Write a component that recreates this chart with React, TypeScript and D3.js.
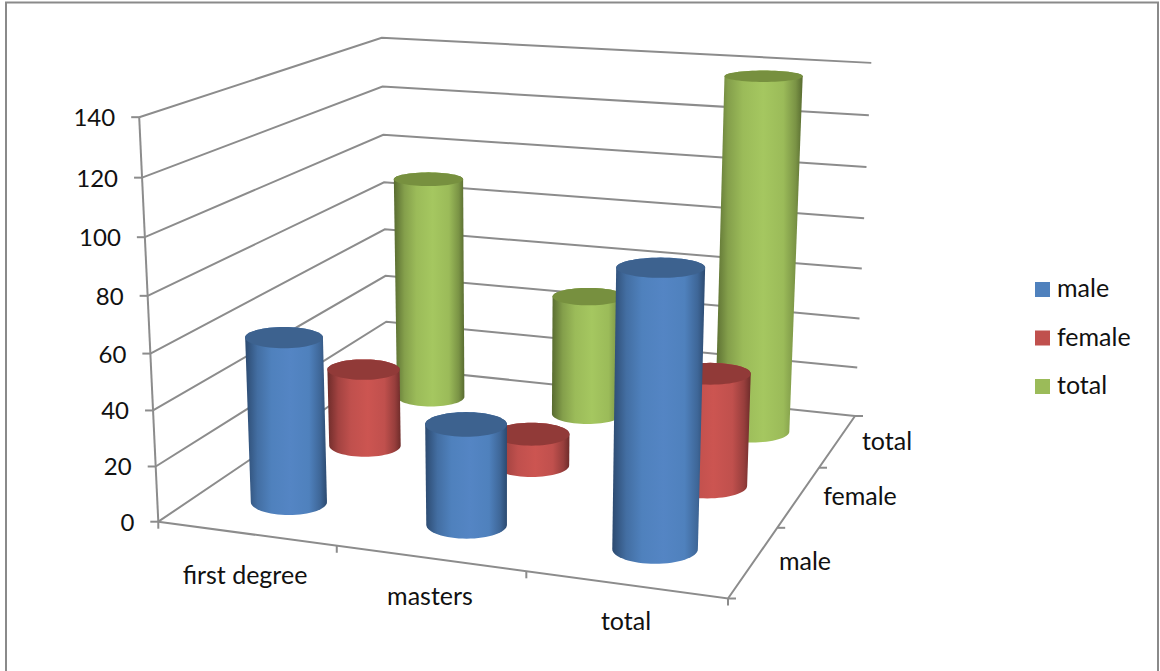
import React from "react";
import * as d3 from "d3";

const categories = ["first degree", "masters", "total"];
const seriesNames = ["male", "female", "total"];
const maleValues = [60, 36, 96];
const femaleValues = [30, 12, 42];
const totalValues = [90, 48, 138];
const yTicks = [0, 20, 40, 60, 80, 100, 120, 140];
const seriesColors = ["#4F81BD", "#C0504D", "#9BBB59"];
const seriesTops = ["#3D628F", "#913A38", "#77903F"];
const seriesEdges = ["#2C4A70", "#6E2C2A", "#586B30"];
const seriesMids = ["#5485C4", "#CC5551", "#A5C760"];

type Pt = [number, number];

// Floor corners on screen and the wall corners at the axis maximum.
const FL: Pt = [158.3, 521.7];
const FR: Pt = [728, 598.5];
const BR: Pt = [855, 416];
const BL: Pt = [387, 367];
const topFL: Pt = [140, 116.7];
const topBL: Pt = [380.7, 38.3];
const topBR: Pt = [871.7, 62.7];

// Homography from the unit square (u along categories, v toward the back) to the floor.
function floorMatrix() {
  const [x0, y0] = FL, [x1, y1] = FR, [x2, y2] = BR, [x3, y3] = BL;
  const dx1 = x1 - x2, dx2 = x3 - x2, sx = x0 - x1 + x2 - x3;
  const dy1 = y1 - y2, dy2 = y3 - y2, sy = y0 - y1 + y2 - y3;
  const den = dx1 * dy2 - dx2 * dy1;
  const g = (sx * dy2 - dx2 * sy) / den;
  const h = (dx1 * sy - sx * dy1) / den;
  return {
    a: x1 - x0 + g * x1, b: x3 - x0 + h * x3, c: x0,
    d: y1 - y0 + g * y1, e: y3 - y0 + h * y3, f: y0,
    g, h,
  };
}
const M = floorMatrix();

// Height column of the projection, fitted by least squares to the three wall corners.
function heightColumn() {
  const rows: number[][] = [];
  const rhs: number[] = [];
  const refs: [number, number, Pt][] = [[0, 0, topFL], [0, 1, topBL], [1, 1, topBR]];
  refs.forEach(([u, v, [x, y]]) => {
    const w = M.g * u + M.h * v + 1;
    const fx = M.a * u + M.b * v + M.c;
    const fy = M.d * u + M.e * v + M.f;
    rows.push([1, 0, -x]); rhs.push(w * x - fx);
    rows.push([0, 1, -y]); rhs.push(w * y - fy);
  });
  const A = [0, 1, 2].map((i) => [0, 1, 2].map((j) => d3.sum(rows, (r) => r[i] * r[j])));
  const B = [0, 1, 2].map((i) => d3.sum(rows, (r, k) => r[i] * rhs[k]));
  const det = (m: number[][]) =>
    m[0][0] * (m[1][1] * m[2][2] - m[1][2] * m[2][1]) -
    m[0][1] * (m[1][0] * m[2][2] - m[1][2] * m[2][0]) +
    m[0][2] * (m[1][0] * m[2][1] - m[1][1] * m[2][0]);
  const D = det(A);
  return [0, 1, 2].map((c) => det(A.map((r, i) => r.map((val, j) => (j === c ? B[i] : val)))) / D);
}
const [p1, p2, p3] = heightColumn();

function project(u: number, v: number, h: number): Pt {
  const w = M.g * u + M.h * v + 1 + p3 * h;
  return [(M.a * u + M.b * v + M.c + p1 * h) / w, (M.d * u + M.e * v + M.f + p2 * h) / w];
}

const heightScale = d3.scaleLinear().domain([0, 140]).range([0, 1]);
const uScale = d3.scalePoint<string>().domain(categories).range([1 / 6, 5 / 6]);
const vScale = d3.scalePoint<string>().domain(seriesNames).range([1 / 6, 5 / 6]);
const radiusU = 0.0735;
const radiusV = 0.072;

const values = [maleValues, femaleValues, totalValues];

// Outline of one cylinder cap: an upright ellipse sized from the local projection scale.
const ring = (u: number, v: number, h: number): Pt[] => {
  const [cx, cy] = project(u, v, h);
  const rx = Math.abs(project(u + radiusU, v, h)[0] - project(u - radiusU, v, h)[0]) / 2;
  const ry = Math.abs(project(u, v + radiusV, h)[1] - project(u, v - radiusV, h)[1]) / 2;
  return d3.range(64).map((i) => {
    const t = (i / 64) * 2 * Math.PI;
    return [cx + rx * Math.cos(t), cy + ry * Math.sin(t)] as Pt;
  });
};

const closed = d3.line<Pt>().curve(d3.curveLinearClosed);
const line = d3.line<Pt>();

const FONT = "Lato, 'Open Sans', sans-serif";
const GRID = "#8C8C8C";

export default function App() {
  const bars: { c: number; s: number; key: string }[] = [];
  // Paint from the back row forward so nearer cylinders cover farther ones.
  for (let s = seriesNames.length - 1; s >= 0; s--) {
    categories.forEach((_, c) => bars.push({ c, s, key: `${c}-${s}` }));
  }

  return (
    <svg
      width={1160}
      height={671}
      viewBox="0 0 1160 671"
      style={{ position: "absolute", left: 0, top: 0, display: "block", background: "#fff" }}
    >
      <defs>
        {seriesColors.map((col, i) => (
          <linearGradient key={col} id={`side-${i}`} x1="0" x2="1" y1="0" y2="0">
            <stop offset="0" stopColor={seriesEdges[i]} />
            <stop offset="0.15" stopColor={d3.interpolateRgb(seriesEdges[i], col)(0.65)} />
            <stop offset="0.32" stopColor={col} />
            <stop offset="0.55" stopColor={seriesMids[i]} />
            <stop offset="0.78" stopColor={col} />
            <stop offset="0.92" stopColor={d3.interpolateRgb(seriesEdges[i], col)(0.5)} />
            <stop offset="1" stopColor={seriesEdges[i]} />
          </linearGradient>
        ))}
      </defs>

      <rect x={6} y={2.5} width={1152} height={680} fill="#fff" stroke="#8A8A8A" strokeWidth={2} />

      {/* Back and side wall gridlines */}
      <g fill="none" stroke={GRID} strokeWidth={2}>
        {yTicks.map((t) => {
          const h = heightScale(t);
          return <path key={t} d={line([project(0, 0, h), project(0, 1, h), project(1, 1, h)]) ?? ""} />;
        })}
        <path d={line([project(0, 0, 0), project(0, 0, 1)]) ?? ""} />
        <path d={line([project(0, 0, 0), project(1, 0, 0), project(1, 1, 0)]) ?? ""} />
        {yTicks.map((t) => {
          const [x, y] = project(0, 0, heightScale(t));
          return <path key={t} d={`M${x - 8},${y}L${x},${y}`} />;
        })}
        {d3.range(0, 4).map((i) => {
          const [x, y] = project(i / 3, 0, 0);
          return <path key={i} d={`M${x},${y}L${x},${y + 7}`} />;
        })}
        {d3.range(0, 4).map((i) => {
          const [x, y] = project(1, i / 3, 0);
          return <path key={i} d={`M${x},${y}L${x + 8},${y}`} />;
        })}
      </g>

      {/* Cylinders */}
      {bars.map(({ c, s, key }) => {
        const u = uScale(categories[c]) as number;
        const v = vScale(seriesNames[s]) as number;
        const h = heightScale(values[s][c]);
        const base = ring(u, v, 0);
        const top = ring(u, v, h);
        const hull = d3.polygonHull([...base, ...top]) as Pt[];
        return (
          <g key={key}>
            <path d={closed(hull) ?? ""} fill={`url(#side-${s})`} />
            <path d={closed(top) ?? ""} fill={seriesTops[s]} />
          </g>
        );
      })}

      {/* Axis labels */}
      <g fontFamily={FONT} fontSize={25} fill="#111">
        {yTicks.map((t) => {
          const [x, y] = project(0, 0, heightScale(t));
          return (
            <text key={t} x={x - 24} y={y + 9} fontSize={24} textAnchor="end">
              {t}
            </text>
          );
        })}
        <text x={245} y={584} textAnchor="middle">first degree</text>
        <text x={430} y={605} textAnchor="middle">masters</text>
        <text x={626} y={630} textAnchor="middle">total</text>
        <text x={805} y={570} textAnchor="middle">male</text>
        <text x={860} y={505} textAnchor="middle">female</text>
        <text x={887} y={450} textAnchor="middle">total</text>
      </g>

      {/* Legend */}
      <g fontFamily={FONT} fontSize={25} fill="#111">
        {seriesNames.map((name, i) => {
          const y = d3.scaleLinear().domain([0, 2]).range([282, 379])(i);
          return (
            <g key={name}>
              <rect x={1035} y={y} width={15} height={15} fill={seriesColors[i]} />
              <text x={1057} y={y + 15}>{name}</text>
            </g>
          );
        })}
      </g>
    </svg>
  );
}
